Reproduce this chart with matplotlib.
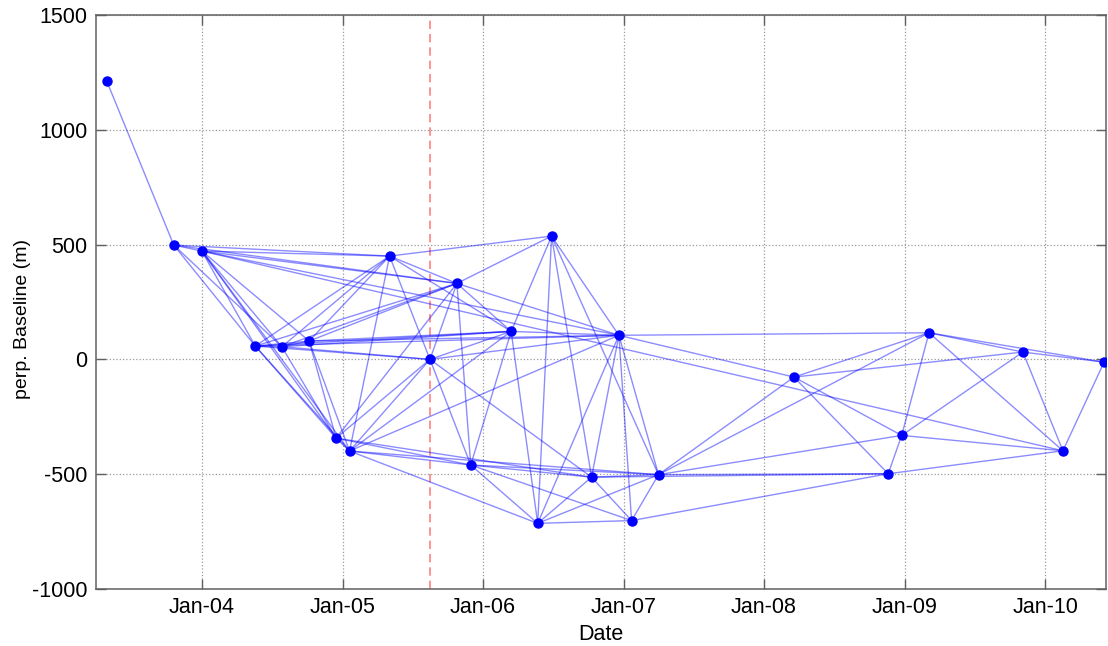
import matplotlib
matplotlib.use('Agg')
import matplotlib.pyplot as plt
import matplotlib.dates as mdates
import pandas as pd

# acquisitions (date, perpendicular baseline in m)
acq_dates = ['2003-04-29', '2003-10-20', '2004-01-01', '2004-05-19', '2004-07-27',
             '2004-10-06', '2004-12-15', '2005-01-19', '2005-05-03', '2005-08-16',
             '2005-10-25', '2005-11-30', '2006-03-15', '2006-05-23', '2006-06-28',
             '2006-10-10', '2006-12-20', '2007-01-22', '2007-04-02', '2008-03-19',
             '2008-11-19', '2008-12-24', '2009-03-05', '2009-11-04', '2010-02-16',
             '2010-06-03']
bperp = [1212, 498, 472, 58, 55, 80, -343, -399, 450, 0,
         331, -460, 122, -714, 537, -513, 105, -702, -502, -77,
         -498, -331, 116, 32, -398, -12]
master_date = '2005-08-16'

# interferogram pairs (indices into the acquisition lists)
pairs = [(0, 1),
         (1, 2), (1, 3), (1, 4), (1, 8), (1, 10),
         (2, 3), (2, 4), (2, 5), (2, 6), (2, 7), (2, 8), (2, 10), (2, 16), (2, 24),
         (3, 4), (3, 5), (3, 6), (3, 7), (3, 8), (3, 10), (3, 12), (3, 9), (3, 16),
         (4, 5), (4, 6), (4, 8), (4, 10), (4, 12), (4, 9),
         (5, 6), (5, 7), (5, 8), (5, 10), (5, 12), (5, 16),
         (6, 7), (6, 10), (6, 11), (6, 9), (6, 15),
         (7, 8), (7, 11), (7, 12), (7, 9), (7, 13), (7, 16), (7, 18),
         (8, 10), (8, 12), (8, 9), (8, 14),
         (9, 10), (9, 11), (9, 12), (9, 15), (9, 16),
         (10, 11), (10, 12), (10, 14), (10, 16),
         (11, 12), (11, 13), (11, 15), (11, 17), (11, 18),
         (12, 14), (12, 13), (12, 16),
         (13, 14), (14, 15), (14, 16), (14, 18),
         (13, 15), (13, 16), (13, 17), (13, 18),
         (15, 16), (15, 17), (15, 18), (15, 20),
         (16, 17), (16, 18), (16, 19), (16, 22),
         (17, 18), (17, 20),
         (18, 19), (18, 20), (18, 21), (18, 22),
         (19, 20), (19, 21), (19, 22), (19, 23),
         (20, 21), (20, 24),
         (21, 22), (21, 23), (21, 24),
         (22, 23), (22, 24), (22, 25),
         (23, 24), (23, 25),
         (24, 25)]

plt.rcParams['font.family'] = ['Liberation Sans', 'DejaVu Sans']
plt.rcParams['font.size'] = 15.5
plt.rcParams['axes.unicode_minus'] = False

dates = pd.to_datetime(acq_dates)

fig = plt.figure(figsize=(11.08, 6.46), dpi=100)
ax = fig.add_axes([96 / 1108, 57 / 646, 1010 / 1108, 574 / 646])

for i, j in pairs:
    ax.plot([dates[i], dates[j]], [bperp[i], bperp[j]], color='blue',
            alpha=0.45, linewidth=1.0, zorder=2)
ax.plot(dates, bperp, 'o', color='blue', markersize=6.5, zorder=3)
ax.axvline(pd.Timestamp(master_date), color='#ff8080', linestyle='--',
           dashes=(5, 3), linewidth=1.2, zorder=1)

ax.set_xlim(pd.Timestamp('2003-04-01'), pd.Timestamp('2010-06-08'))
ax.set_ylim(-1000, 1500)
ax.set_yticks([-1000, -500, 0, 500, 1000, 1500])
ax.xaxis.set_major_locator(mdates.YearLocator())
ax.xaxis.set_major_formatter(mdates.DateFormatter('%b-%y'))

ax.grid(True, linestyle=':', color='#9a9a9a', linewidth=0.9)
ax.tick_params(direction='in', length=7, width=1, color='#606060',
               top=True, right=True, pad=6)
for sp in ax.spines.values():
    sp.set_color('#606060')
    sp.set_linewidth(1.1)

ax.set_xlabel('Date', labelpad=4)
ax.set_ylabel('perp. Baseline (m)', fontsize=14)
ax.yaxis.set_label_coords(-0.064, 0.47)

fig.savefig('out.png', dpi=100)
